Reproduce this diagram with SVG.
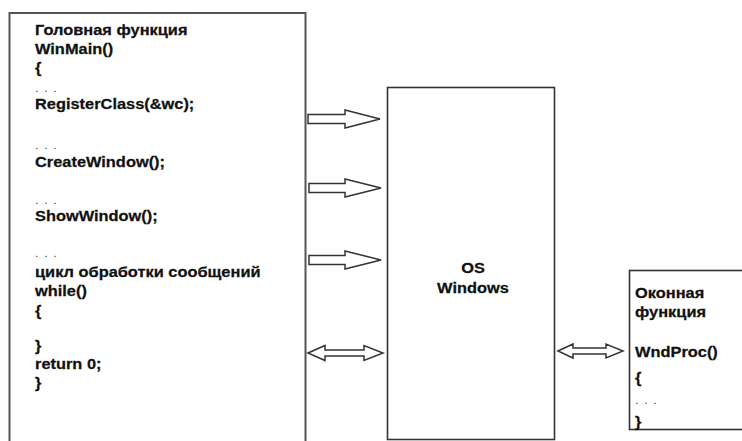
<svg xmlns="http://www.w3.org/2000/svg" width="742" height="441" viewBox="0 0 742 441">
<style>
.t{font-family:"Liberation Sans",Arial,sans-serif;font-weight:bold;font-size:14.5px;fill:#111;stroke:#111;stroke-width:0.25}
.d{font-family:"Liberation Sans",Arial,sans-serif;font-size:11px;fill:#444;letter-spacing:1px}
.box{fill:#fff;stroke:#333;stroke-width:1.6}
.arr{fill:#fff;stroke:#333;stroke-width:1.5;stroke-linejoin:miter}
</style>
<rect width="742" height="441" fill="#fff"/>
<g id="winmain">
<rect x="9.5" y="13" width="296" height="440" fill="#fff" stroke="#555" stroke-width="2"/>
<g transform="translate(35,0) scale(1.13,1)">
<text class="t" x="0" y="35">Головная функция</text>
<text class="t" x="0" y="54">WinMain()</text>
<text class="t" x="0" y="73">{</text>
<text class="d" x="0" y="92">. . .</text>
<text class="t" x="0" y="109">RegisterClass(&amp;wc);</text>
<text class="d" x="0" y="149">. . .</text>
<text class="t" x="0" y="167">CreateWindow();</text>
<text class="d" x="0" y="204">. . .</text>
<text class="t" x="0" y="221">ShowWindow();</text>
<text class="d" x="0" y="257">. . .</text>
<text class="t" x="0" y="277">цикл обработки сообщений</text>
<text class="t" x="0" y="296">while()</text>
<text class="t" x="0" y="316">{</text>
<text class="t" x="0" y="351">}</text>
<text class="t" x="0" y="369">return 0;</text>
<text class="t" x="0" y="388">}</text>
</g>
</g>
<g id="os">
<rect class="box" x="387.5" y="87.5" width="167" height="352"/>
<g transform="translate(473,0) scale(1.13,1)">
<text class="t" x="0" y="273" text-anchor="middle">OS</text>
<text class="t" x="0" y="293" text-anchor="middle">Windows</text>
</g>
</g>
<g id="wndproc">
<rect class="box" x="629.5" y="270.5" width="130" height="159"/>
<g transform="translate(635,0) scale(1.13,1)">
<text class="t" x="0" y="298">Оконная</text>
<text class="t" x="0" y="317">функция</text>
<text class="t" x="0" y="357">WndProc()</text>
<text class="t" x="0" y="383">{</text>
<text class="d" x="0" y="404">. . .</text>
<text class="t" x="0" y="427">}</text>
</g>
</g>
<g id="connectors">
<polygon class="arr" points="308,114.5 345,114.5 345,110 380,119 345,128 345,123.5 308,123.5"/>
<polygon class="arr" points="309,183.5 345,183.5 345,179 381,188 345,197 345,192.5 309,192.5"/>
<polygon class="arr" points="309,255.5 345,255.5 345,251 381,260 345,269 345,264.5 309,264.5"/>
<polygon class="arr" points="308,353 325,345.5 325,350 364,350 364,345.5 383,353 364,360.5 364,356 325,356 325,360.5"/>
<polygon class="arr" points="558,351 573,344 573,348 606,348 606,344 623,351 606,358 606,354 573,354 573,358"/>
</g>
</svg>
